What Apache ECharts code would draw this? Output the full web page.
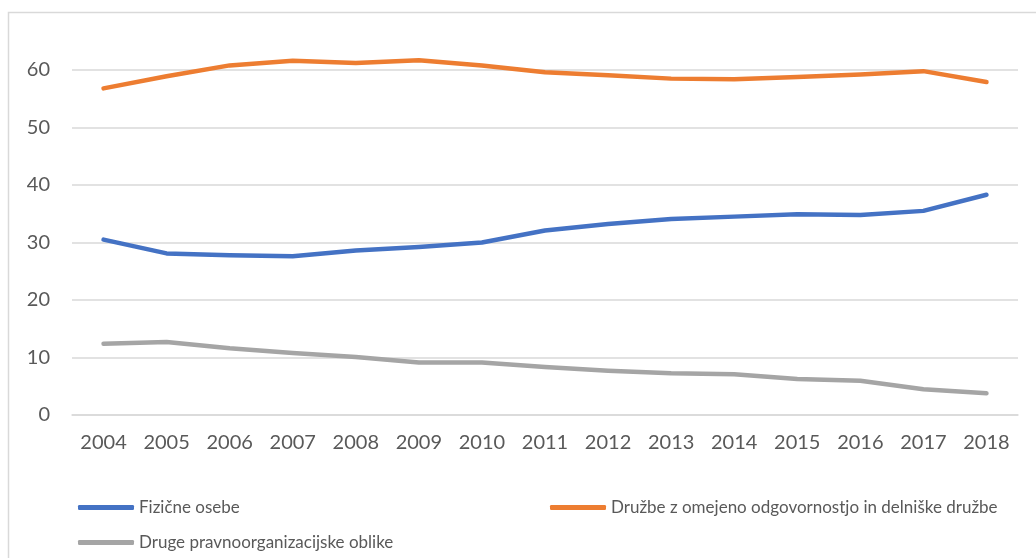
<!DOCTYPE html>
<html>
<head>
<meta charset="utf-8">
<script src="https://cdn.jsdelivr.net/npm/echarts@6/dist/echarts.min.js"></script>
<style>
  html, body { margin: 0; padding: 0; background: #ffffff; }
  #chart { width: 1036px; height: 558px; }
</style>
</head>
<body>
<div id="chart"></div>
<script>
const years = ['2004','2005','2006','2007','2008','2009','2010','2011','2012','2013','2014','2015','2016','2017','2018'];
const fizicneOsebe = [30.5, 28.1, 27.8, 27.6, 28.6, 29.2, 30.0, 32.1, 33.2, 34.1, 34.5, 34.9, 34.8, 35.5, 38.3];
const druzbe = [56.8, 58.9, 60.8, 61.6, 61.2, 61.7, 60.8, 59.6, 59.1, 58.5, 58.4, 58.8, 59.2, 59.8, 57.9];
const druge = [12.4, 12.7, 11.6, 10.8, 10.1, 9.15, 9.15, 8.35, 7.7, 7.25, 7.1, 6.25, 5.97, 4.47, 3.77];
const yTicks = [0, 10, 20, 30, 40, 50, 60];

const names = ['Fizične osebe', 'Družbe z omejeno odgovornostjo in delniške družbe', 'Druge pravnoorganizacijske oblike'];
const colors = ['#4472C4', '#ED7D31', '#A5A5A5'];
const FONT = 'Lato';
const TEXT = '#595959';

function legendAt(name, left, top) {
  return {
    data: [name],
    left: left,
    top: top,
    orient: 'horizontal',
    icon: 'roundRect',
    itemWidth: 56,
    itemHeight: 5,
    selectedMode: false,
    textStyle: { fontFamily: FONT, fontSize: 17, color: TEXT }
  };
}

const chart = echarts.init(document.getElementById('chart'), null, { renderer: 'canvas' });
chart.setOption({
  animation: false,
  backgroundColor: '#ffffff',
  graphic: [{
    type: 'rect',
    shape: { x: 8.5, y: 12.5, width: 1200, height: 700 },
    style: { fill: 'none', stroke: '#d9d9d9', lineWidth: 1.5 },
    silent: true,
    z: -1
  }],
  grid: { left: 72, right: 18, top: 70, bottom: 143, containLabel: false },
  legend: [
    legendAt(names[0], 73, 494),
    legendAt(names[1], 545, 494),
    legendAt(names[2], 73, 529)
  ],
  xAxis: {
    type: 'category',
    data: years,
    boundaryGap: true,
    axisLine: { show: true, lineStyle: { color: '#d9d9d9', width: 1.5 } },
    axisTick: { show: false },
    axisLabel: { fontFamily: FONT, fontSize: 20, color: TEXT, margin: 18 }
  },
  yAxis: {
    type: 'value',
    min: yTicks[0],
    max: yTicks[yTicks.length - 1],
    interval: 10,
    axisLine: { show: false },
    axisTick: { show: false },
    axisLabel: { fontFamily: FONT, fontSize: 20, color: TEXT, margin: 22 },
    splitLine: { lineStyle: { color: '#d9d9d9', width: 1.5 } }
  },
  series: [fizicneOsebe, druzbe, druge].map((d, i) => ({
    name: names[i],
    type: 'line',
    data: d,
    symbol: 'none',
    smooth: false,
    clip: false,
    color: colors[i],
    lineStyle: { width: 4.5, color: colors[i], cap: 'round', join: 'round' }
  }))
});
</script>
</body>
</html>
